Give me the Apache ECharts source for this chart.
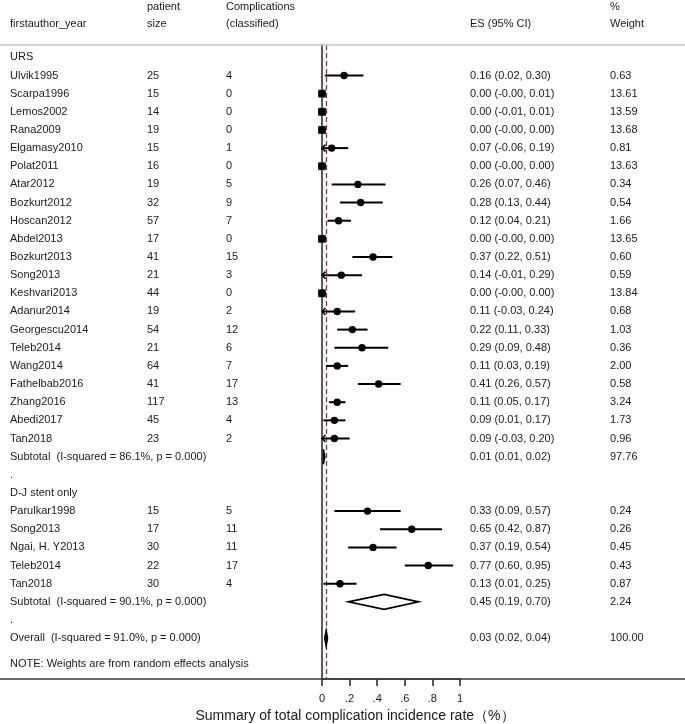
<!DOCTYPE html>
<html>
<head>
<meta charset="utf-8">
<script src="https://cdn.jsdelivr.net/npm/echarts@6/dist/echarts.min.js"></script>
<style>
html,body{margin:0;padding:0;background:#fff;}
#chart{width:685px;height:724px;}
</style>
</head>
<body>
<div id="chart"></div>
<script>
// ---- data ----
const rowLabels = ['URS','Ulvik1995','Scarpa1996','Lemos2002','Rana2009','Elgamasy2010','Polat2011','Atar2012','Bozkurt2012','Hoscan2012','Abdel2013','Bozkurt2013','Song2013','Keshvari2013','Adanur2014','Georgescu2014','Teleb2014','Wang2014','Fathelbab2016','Zhang2016','Abedi2017','Tan2018','Subtotal  (I-squared = 86.1%, p = 0.000)','.','D-J stent only','Parulkar1998','Song2013','Ngai, H. Y2013','Teleb2014','Tan2018','Subtotal  (I-squared = 90.1%, p = 0.000)','.','Overall  (I-squared = 91.0%, p = 0.000)'];
const rowKind = ['group','study','study','study','study','study','study','study','study','study','study','study','study','study','study','study','study','study','study','study','study','study','subtotal','blank','group','study','study','study','study','study','subtotal','blank','overall'];
const patientSize = [null,25,15,14,19,15,16,19,32,57,17,41,21,44,19,54,21,64,41,117,45,23,null,null,null,15,17,30,22,30,null,null,null];
const complications = [null,4,0,0,0,1,0,5,9,7,0,15,3,0,2,12,6,7,17,13,4,2,null,null,null,5,11,11,17,4,null,null,null];
const esValue = [null,0.16,0.00,0.00,0.00,0.07,0.00,0.26,0.28,0.12,0.00,0.37,0.14,0.00,0.11,0.22,0.29,0.11,0.41,0.11,0.09,0.09,0.01,null,null,0.33,0.65,0.37,0.77,0.13,0.45,null,0.03];
const ciLow = [null,0.02,-0.001,-0.01,-0.001,-0.06,-0.001,0.07,0.13,0.04,-0.001,0.22,-0.01,-0.001,-0.03,0.11,0.09,0.03,0.26,0.05,0.01,-0.03,0.01,null,null,0.09,0.42,0.19,0.60,0.01,0.19,null,0.02];
const ciHigh = [null,0.30,0.01,0.01,0.001,0.19,0.001,0.46,0.44,0.21,0.001,0.51,0.29,0.001,0.24,0.33,0.48,0.19,0.57,0.17,0.17,0.20,0.02,null,null,0.57,0.87,0.54,0.95,0.25,0.70,null,0.04];
const weightPct = [null,0.63,13.61,13.59,13.68,0.81,13.63,0.34,0.54,1.66,13.65,0.60,0.59,13.84,0.68,1.03,0.36,2.00,0.58,3.24,1.73,0.96,97.76,null,null,0.24,0.26,0.45,0.43,0.87,2.24,null,100.00];
const xTicks = [0,0.2,0.4,0.6,0.8,1];
const overallES = 0.03;
const noteText = 'NOTE: Weights are from random effects analysis';
const axisTitle = 'Summary of total complication incidence rate（%）';

// ---- styling ----
const FONT = '"Liberation Sans", Arial, Helvetica, sans-serif';
const TXT = '#1a1a1a';
const colX = {name:10, size:147, comp:226, es:470, wt:610};

function fmt(v){ return (v < 0 ? '-' : '') + Math.abs(v).toFixed(2); }

const chart = echarts.init(document.getElementById('chart'), null, {renderer:'canvas'});

const rows = rowLabels.map((_, i) => [esValue[i] == null ? 0 : esValue[i], i]);
const lastRow = rowLabels.length - 1;
rows.push([0, lastRow + 1.4]); // note row

function txt(x, y, s, extra){
  return {type:'text', silent:true, style:Object.assign({x:x, y:y, text:s, fill:TXT, font:'11px ' + FONT, align:'left', verticalAlign:'middle'}, extra||{})};
}

function renderRow(params, api){
  const i = params.dataIndex;
  const children = [];
  if (i > lastRow){
    const p = api.coord([0, api.value(1)]);
    children.push(txt(colX.name, p[1], noteText));
    return {type:'group', children};
  }
  const y = api.coord([0, i])[1];
  const kind = rowKind[i];
  children.push(txt(colX.name, y, rowLabels[i]));
  if (patientSize[i] != null) children.push(txt(colX.size, y, String(patientSize[i])));
  if (complications[i] != null) children.push(txt(colX.comp, y, String(complications[i])));
  if (esValue[i] != null){
    children.push(txt(colX.es, y, esValue[i].toFixed(2) + ' (' + fmt(ciLow[i]) + ', ' + fmt(ciHigh[i]) + ')'));
    children.push(txt(colX.wt, y, weightPct[i].toFixed(2)));
  }
  if (kind === 'study'){
    const xl = api.coord([Math.max(ciLow[i], 0), i])[0];
    const xh = api.coord([Math.min(ciHigh[i], 1), i])[0];
    const xe = api.coord([esValue[i], i])[0];
    const side = 8 * Math.sqrt(weightPct[i] / 13.84);
    children.push({type:'rect', shape:{x:xe - side/2, y:y - side/2, width:side, height:side}, style:{fill:'#3a3a3a'}});
    children.push({type:'line', shape:{x1:xl, y1:y, x2:xh, y2:y}, style:{stroke:'#000', lineWidth:2}});
    if (ciLow[i] < -0.005){
      children.push({type:'polyline', shape:{points:[[xl+3.5, y-3.5],[xl, y],[xl+3.5, y+3.5]]}, style:{stroke:'#000', lineWidth:1.5, fill:null}});
    }
    children.push({type:'circle', shape:{cx:xe, cy:y, r:3.7}, style:{fill:'#000'}});
  } else if (kind === 'subtotal' || kind === 'overall'){
    const xl = api.coord([ciLow[i], i])[0];
    const xh = api.coord([ciHigh[i], i])[0];
    const xe = api.coord([esValue[i], i])[0];
    const h = 7.5;
    children.push({type:'polygon', shape:{points:[[xl, y],[xe, y-h],[xh, y],[xe, y+h]]},
      style:{fill: kind === 'overall' ? '#000' : '#fff', stroke:'#000', lineWidth:1.6}});
  }
  return {type:'group', children};
}

const option = {
  animation:false,
  backgroundColor:'#fff',
  grid:{left:322, width:138, top:45, height:634, containLabel:false},
  xAxis:{
    type:'value', min:0, max:1, interval:0.2,
    axisLine:{show:true, onZero:false, lineStyle:{color:'#3a3a3a', width:1.5}},
    axisTick:{show:true, length:7, lineStyle:{color:'#222', width:1.5}},
    axisLabel:{margin:14, fontSize:11, color:TXT, fontFamily:FONT,
      formatter:v => { const t = xTicks.find(k => Math.abs(k - v) < 1e-6); if (t === 0) return '0'; if (t === 1) return '1'; return String(Math.round(v*10)/10).replace(/^0/, ''); }},
    splitLine:{show:false}
  },
  yAxis:{
    type:'value', inverse:true, min:-0.68, max:34.25,
    axisLine:{show:true, onZero:false, lineStyle:{color:'#333', width:1.6}},
    axisTick:{show:false}, axisLabel:{show:false}, splitLine:{show:false}
  },
  graphic:[
    {type:'line', silent:true, shape:{x1:0, y1:45, x2:685, y2:45}, style:{stroke:'#c4c4c4', lineWidth:1.5}, z:10},
    {type:'line', silent:true, shape:{x1:0, y1:679, x2:685, y2:679}, style:{stroke:'#3a3a3a', lineWidth:1.5}, z:10},
    {type:'text', left:colX.name, top:18, style:{text:'firstauthor_year', fill:TXT, font:'11px ' + FONT}},
    {type:'text', left:colX.size, top:1, style:{text:'patient', fill:TXT, font:'11px ' + FONT}},
    {type:'text', left:colX.size, top:18, style:{text:'size', fill:TXT, font:'11px ' + FONT}},
    {type:'text', left:colX.comp, top:1, style:{text:'Complications', fill:TXT, font:'11px ' + FONT}},
    {type:'text', left:colX.comp, top:18, style:{text:'(classified)', fill:TXT, font:'11px ' + FONT}},
    {type:'text', left:colX.es, top:18, style:{text:'ES (95% CI)', fill:TXT, font:'11px ' + FONT}},
    {type:'text', left:colX.wt, top:1, style:{text:'%', fill:TXT, font:'11px ' + FONT}},
    {type:'text', left:colX.wt, top:18, style:{text:'Weight', fill:TXT, font:'11px ' + FONT}},
    {type:'text', x:355, y:716, style:{text:axisTitle, fill:TXT, font:'14px ' + FONT, align:'center', verticalAlign:'middle'}}
  ],
  series:[{
    type:'custom',
    clip:false,
    encode:{x:0, y:1},
    data:rows,
    renderItem:renderRow,
    z:5,
    markLine:{
      silent:true, symbol:'none', label:{show:false},
      lineStyle:{color:'#9b2d3a', type:[5,3], width:1.3},
      data:[{xAxis:overallES}]
    }
  }]
};
chart.setOption(option);
</script>
</body>
</html>
